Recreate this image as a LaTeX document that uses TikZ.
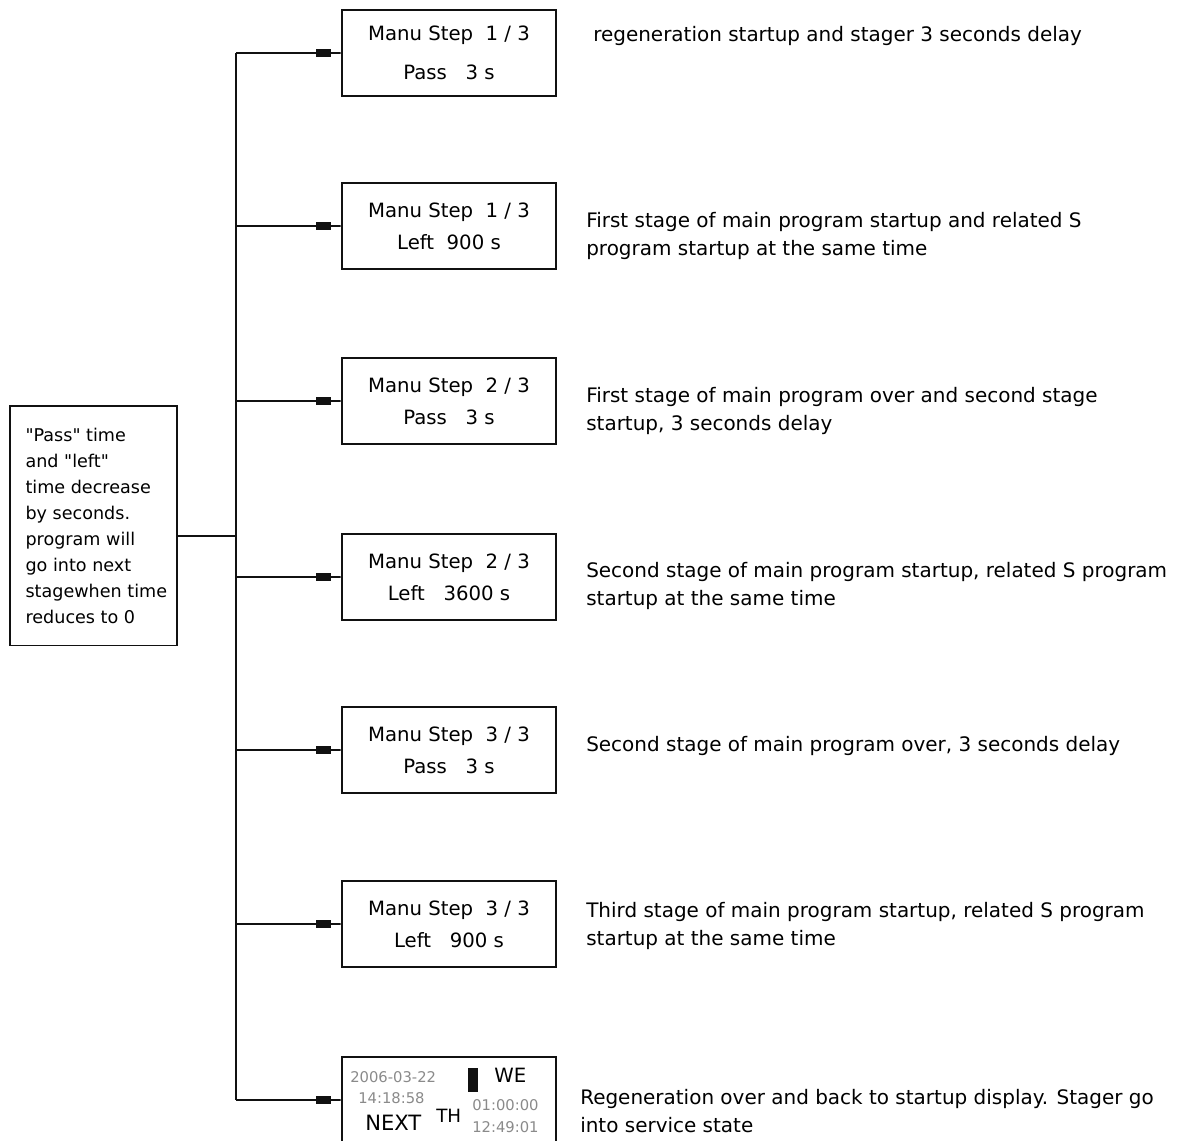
\documentclass[tikz,border=0pt]{standalone}
\usepackage{fontspec}
\setmainfont{DejaVu Sans}
\newfontfamily\plainfont{DejaVu Sans}
\usetikzlibrary{arrows.meta,positioning}
\definecolor{ink}{HTML}{111111}
\definecolor{lcd}{HTML}{8A8A8A}

\begin{document}
\begin{tikzpicture}[
  x=0.025cm,y=-0.025cm,
  stepbox/.style={draw=ink,line width=0.9pt,align=center,
                  minimum width=5.35cm,minimum height=2.15cm,
                  font=\fontsize{14}{23}\selectfont,inner sep=0pt},
  note/.style={draw=ink,line width=0.9pt,
               minimum width=4.18cm,minimum height=5.98cm,inner sep=0pt},
  notetext/.style={align=left,inner sep=0pt,
                   font=\plainfont\fontsize{12.5}{18.5}\selectfont},
  desc/.style={anchor=west,align=left,inner sep=0pt,
               font=\fontsize{14.2}{20.5}\selectfont},
  arr/.style={-{Rectangle[length=11pt,width=5.5pt]Rectangle[length=7pt,width=0.9pt]},
              line width=0.9pt,ink},
  wire/.style={line width=0.9pt,ink},
  dim/.style={text=lcd,inner sep=0pt,font=\fontsize{10.5}{10.5}\selectfont}
]
  \useasboundingbox (0,0) rectangle (1186,1140);
  % left note
  \node[note] (rule) at (93.5,525.5) {};
  \node[notetext,anchor=west] (ruletext) at ([xshift=0.4cm]rule.west)
    {"Pass" time\\ and "left"\\ time decrease\\ by seconds.\\ program will\\ go into next\\ stagewhen time\\ reduces to 0};
  % step displays
  \node[stepbox] (s1) at (449,53)   {Manu Step\ \ 1 / 3\\[5pt] Pass\ \ \ 3 s};
  \node[stepbox] (s2) at (449,226)  {Manu Step\ \ 1 / 3\\ Left\ \ 900 s};
  \node[stepbox] (s3) at (449,401)  {Manu Step\ \ 2 / 3\\ Pass\ \ \ 3 s};
  \node[stepbox] (s4) at (449,577)  {Manu Step\ \ 2 / 3\\ Left\ \ \ 3600 s};
  \node[stepbox] (s5) at (449,750)  {Manu Step\ \ 3 / 3\\ Pass\ \ \ 3 s};
  \node[stepbox] (s6) at (449,924)  {Manu Step\ \ 3 / 3\\ Left\ \ \ 900 s};
  \node[stepbox] (s7) at (449,1100) {};
  % startup display contents
  \node[dim,anchor=west] (date) at (350,1077) {2006-03-22};
  \node[dim,anchor=west] (clock) at (358,1098) {14:18:58};
  \node[anchor=west,inner sep=0pt,font=\fontsize{15}{15}\selectfont] (next) at (365,1123) {NEXT};
  \node[anchor=west,inner sep=0pt,font=\fontsize{13}{13}\selectfont] (th) at (436,1116) {TH};
  \node[fill=ink,minimum width=0.25cm,minimum height=0.6cm,inner sep=0pt] (cursor) at (473,1080) {};
  \node[anchor=west,inner sep=0pt,font=\fontsize{14}{14}\selectfont] (we) at (494,1075) {WE};
  \node[dim,anchor=west] (t1) at (472,1105) {01:00:00};
  \node[dim,anchor=west] (t2) at (472,1127) {12:49:01};
  % bus and branches
  \coordinate (busx) at (236,0);
  \coordinate (join) at (236,536);
  \draw[wire] (s1.west -| busx) -- (s7.west -| busx);
  \draw[wire] (join -| rule.east) -- (join);
  \foreach \s in {s1,s2,s3,s4,s5,s6,s7}
    \draw[arr] (\s.west -| busx) -- (\s.west);
  % descriptions
  \node[desc] (d1) at (593,36)  {regeneration startup and stager 3 seconds delay};
  \node[desc] (d2) at (586,236) {First stage of main program startup and related S\\ program startup at the same time};
  \node[desc] (d3) at (586,411) {First stage of main program over and second stage\\ startup, 3 seconds delay};
  \node[desc] (d4) at (586,586) {Second stage of main program startup, related S program\\ startup at the same time};
  \node[desc] (d5) at (586,746) {Second stage of main program over, 3 seconds delay};
  \node[desc] (d6) at (586,926) {Third stage of main program startup, related S program\\ startup at the same time};
  \node[desc] (d7) at (580,1111) {Regeneration over and back to startup display. Stager go\\ into service state};
\end{tikzpicture}
\end{document}
